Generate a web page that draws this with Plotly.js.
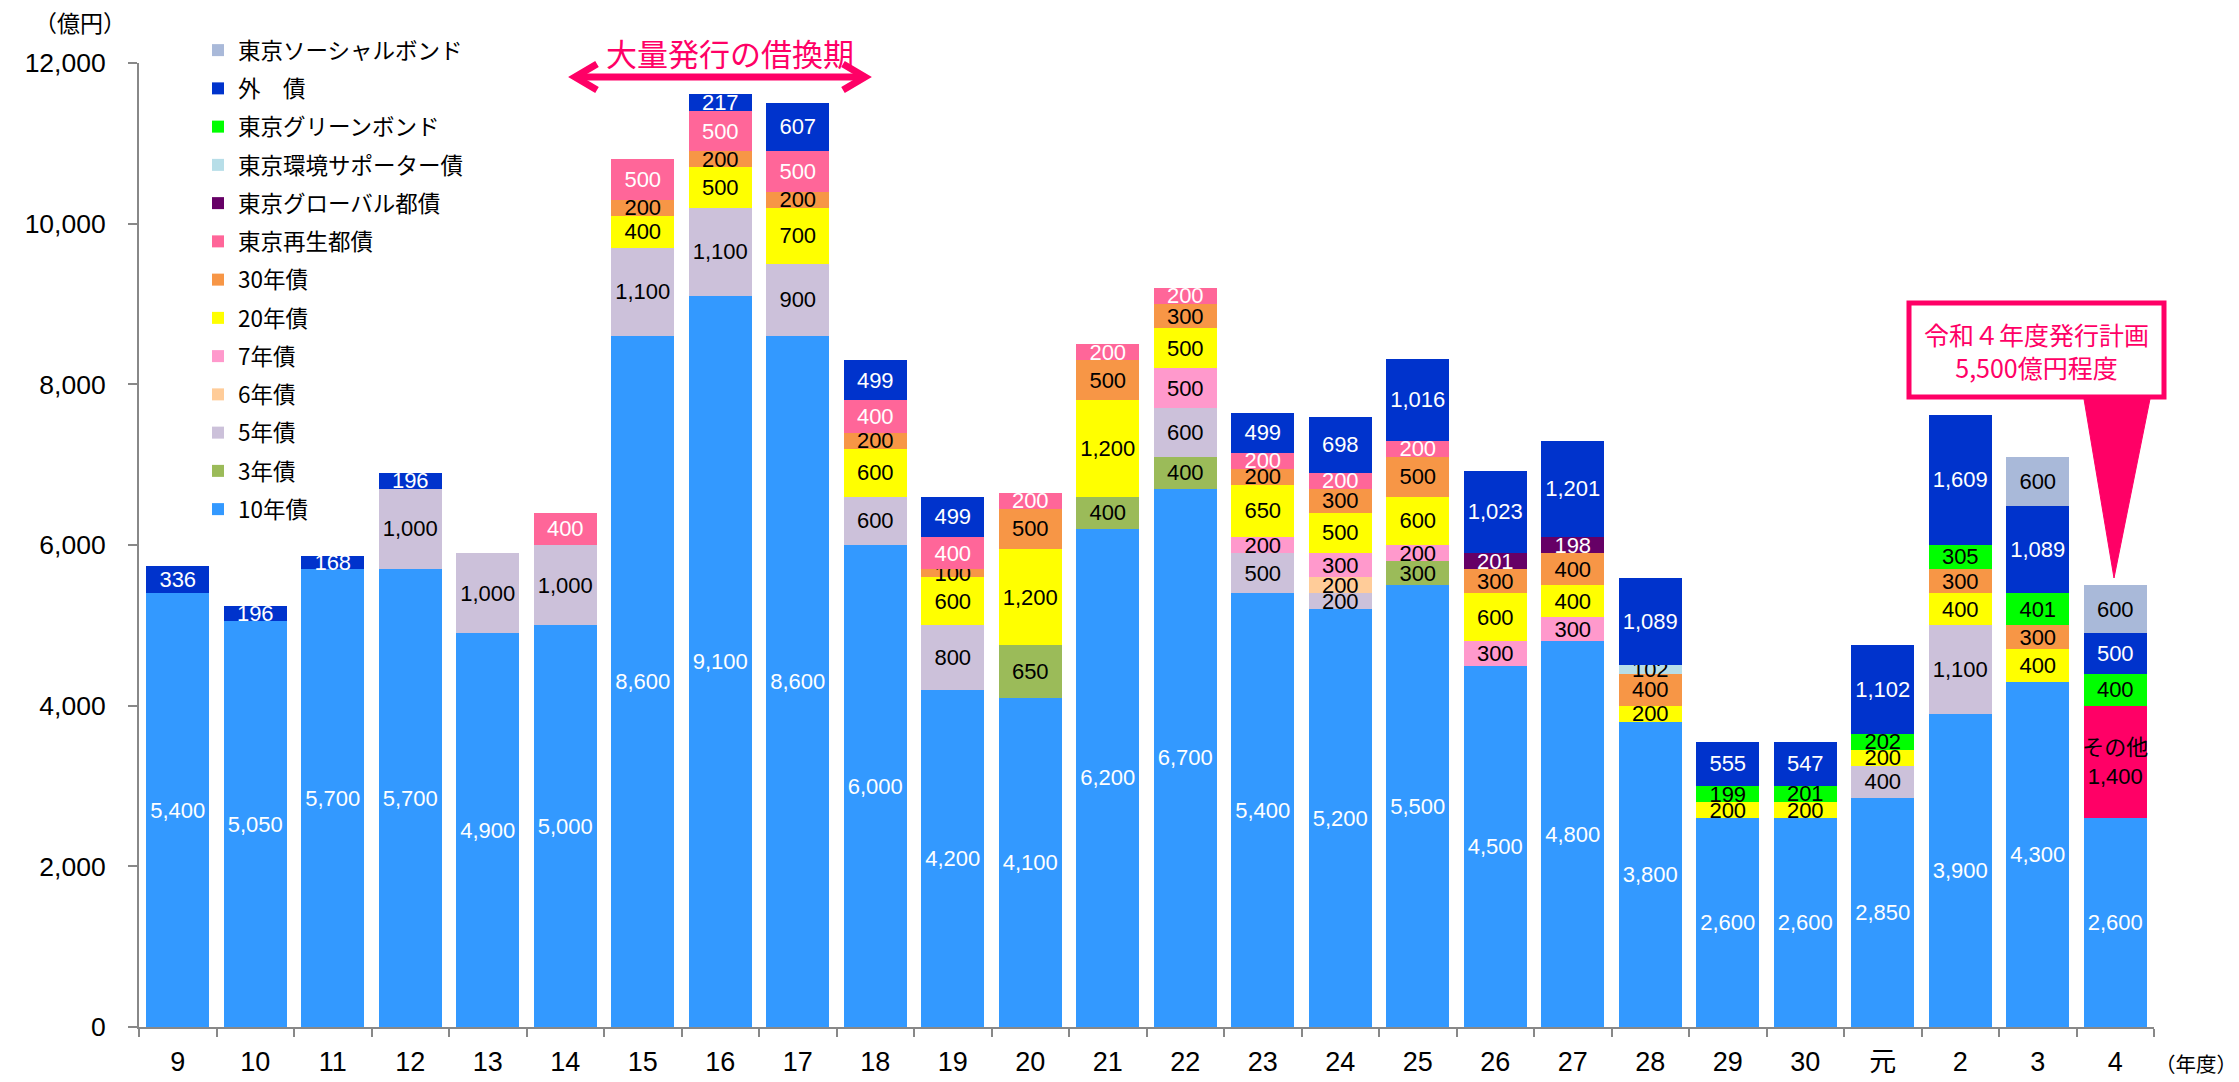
<!DOCTYPE html>
<html><head><meta charset="utf-8">
<script src="https://cdn.plot.ly/plotly-3.0.1.min.js"></script>
<style>html,body{margin:0;padding:0;background:#fff}</style>
</head><body><div id="chart" style="width:2239px;height:1082px"></div>
<script>
const categories = ['9','10','11','12','13','14','15','16','17','18','19','20','21','22','23','24','25','26','27','28','29','30','元','2','3','4'];
const N = null;
const bond10   = [5400,5050,5700,5700,4900,5000,8600,9100,8600,6000,4200,4100,6200,6700,5400,5200,5500,4500,4800,3800,2600,2600,2850,3900,4300,2600];
const bond3    = [N,N,N,N,N,N,N,N,N,N,N,650,400,400,N,N,300,N,N,N,N,N,N,N,N,N];
const bond5    = [N,N,N,1000,1000,1000,1100,1100,900,600,800,N,N,600,500,200,N,N,N,N,N,N,400,1100,N,N];
const bond6    = [N,N,N,N,N,N,N,N,N,N,N,N,N,N,N,200,N,N,N,N,N,N,N,N,N,N];
const bond7    = [N,N,N,N,N,N,N,N,N,N,N,N,N,500,200,300,200,300,300,N,N,N,N,N,N,N];
const bond20   = [N,N,N,N,N,N,400,500,700,600,600,1200,1200,500,650,500,600,600,400,200,200,200,200,400,400,N];
const bond30   = [N,N,N,N,N,N,200,200,200,200,100,500,500,300,200,300,500,300,400,400,N,N,N,300,300,N];
const saisei   = [N,N,N,N,N,400,500,500,500,400,400,200,200,200,200,200,200,N,N,N,N,N,N,N,N,N];
const global   = [N,N,N,N,N,N,N,N,N,N,N,N,N,N,N,N,N,201,198,N,N,N,N,N,N,N];
const kankyo   = [N,N,N,N,N,N,N,N,N,N,N,N,N,N,N,N,N,N,N,102,N,N,N,N,N,N];
const sonota   = [N,N,N,N,N,N,N,N,N,N,N,N,N,N,N,N,N,N,N,N,N,N,N,N,N,1400];
const green    = [N,N,N,N,N,N,N,N,N,N,N,N,N,N,N,N,N,N,N,N,199,201,202,305,401,400];
const gaisai   = [336,196,168,196,N,N,N,217,607,499,499,N,N,N,499,698,1016,1023,1201,1089,555,547,1102,1609,1089,500];
const social   = [N,N,N,N,N,N,N,N,N,N,N,N,N,N,N,N,N,N,N,N,N,N,N,N,600,600];

const NUMFONT = "'Liberation Sans', Arial, 'Noto Sans CJK JP', sans-serif";
const JPFONT = "'Liberation Sans', Arial, 'Noto Sans CJK JP', sans-serif";

let rank = 100;
function mk(name, vals, color, tcolor, show, tmpl) {
  rank -= 1;
  return {
    type: 'bar', name: name, x: categories, y: vals,
    marker: {color: color, line: {width: 0}},
    texttemplate: tmpl || '%{y:,}', textposition: 'inside', insidetextanchor: 'middle',
    constraintext: 'none', textangle: 0,
    textfont: {family: NUMFONT, size: 22, color: tcolor},
    showlegend: show, legendgroup: name, legendrank: rank, hoverinfo: 'skip'
  };
}
const sonotaText = sonota.map(v => v == null ? '' : 'その他<br>' + v.toLocaleString('en-US'));
const trOther = mk('その他', sonota, '#FF0066', '#000000', false, '%{text}');
trOther.text = sonotaText;

const data = [
  mk('10年債', bond10, '#3399FF', '#FFFFFF', true),
  mk('3年債', bond3, '#9BBB59', '#000000', true),
  mk('5年債', bond5, '#CCC1DA', '#000000', true),
  mk('6年債', bond6, '#FFCC99', '#000000', true),
  mk('7年債', bond7, '#FF99CC', '#000000', true),
  mk('20年債', bond20, '#FFFF00', '#000000', true),
  mk('30年債', bond30, '#F79646', '#000000', true),
  mk('東京再生都債', saisei, '#FF6699', '#FFFFFF', true),
  mk('東京グローバル都債', global, '#660066', '#FFFFFF', true),
  mk('東京環境サポーター債', kankyo, '#B7DEE8', '#000000', true),
  trOther,
  mk('東京グリーンボンド', green, '#00FF00', '#000000', true),
  mk('外　債', gaisai, '#0033CC', '#FFFFFF', true),
  mk('東京ソーシャルボンド', social, '#A9B9D9', '#000000', true)
];

const L = 139, R = 85, T = 63, B = 55, W = 2239, H = 1082;
const PW = W - L - R, PH = H - T - B;
const px = x => (x - L) / PW;
const py = y => (H - B - y) / PH;
const PINK = '#FF0066';

const layout = {
  width: W, height: H,
  margin: {l: L, r: R, t: T, b: B, pad: 0},
  paper_bgcolor: '#FFFFFF', plot_bgcolor: '#FFFFFF',
  barmode: 'stack', bargap: 0.19,
  font: {family: JPFONT, color: '#000000'},
  showlegend: true,
  legend: {
    x: px(198), y: py(29), xanchor: 'left', yanchor: 'top',
    traceorder: 'grouped', tracegroupgap: 6,
    font: {family: "'Noto Sans CJK JP', sans-serif", size: 22.5, color: '#000'},
    bgcolor: 'rgba(0,0,0,0)', borderwidth: 0
  },
  xaxis: {
    type: 'category', showgrid: false, zeroline: false,
    showline: true, linecolor: '#888888', linewidth: 2,
    ticks: 'outside', tickson: 'boundaries', ticklen: 8, tickwidth: 2, tickcolor: '#888888',
    tickfont: {family: JPFONT, size: 27, color: '#000'},
    ticklabelstandoff: 10, fixedrange: true
  },
  yaxis: {
    range: [0, 12000], dtick: 2000, tick0: 0, tickformat: ',d',
    showgrid: false, zeroline: false,
    showline: true, linecolor: '#888888', linewidth: 2,
    ticks: 'outside', ticklen: 9, tickwidth: 2, tickcolor: '#888888',
    tickfont: {family: NUMFONT, size: 26.5, color: '#000'},
    ticklabelstandoff: 17, fixedrange: true
  },
  shapes: [
    {type: 'rect', xref: 'paper', yref: 'paper', x0: px(1909), x1: px(2164), y0: py(397), y1: py(303),
     fillcolor: '#FFFFFF', line: {color: PINK, width: 5}},
    {type: 'path', xref: 'paper', yref: 'paper',
     path: `M ${px(2084)} ${py(399)} L ${px(2150)} ${py(399)} L ${px(2114)} ${py(578)} Z`,
     fillcolor: PINK, line: {color: PINK, width: 1}},
    {type: 'line', xref: 'paper', yref: 'paper', x0: px(577), x1: px(862), y0: py(77), y1: py(77),
     line: {color: PINK, width: 7}},
    {type: 'path', xref: 'paper', yref: 'paper',
     path: `M ${px(597)} ${py(64)} L ${px(575)} ${py(77)} L ${px(597)} ${py(90)}`,
     line: {color: PINK, width: 7}},
    {type: 'path', xref: 'paper', yref: 'paper',
     path: `M ${px(843)} ${py(64)} L ${px(865)} ${py(77)} L ${px(843)} ${py(90)}`,
     line: {color: PINK, width: 7}}
  ],
  annotations: [
    {text: '（億円）', xref: 'paper', yref: 'paper', x: px(80), y: py(22), xanchor: 'center', yanchor: 'middle',
     showarrow: false, font: {family: "'Noto Sans CJK JP', sans-serif", size: 23, color: '#000'}},
    {text: '（年度）', xref: 'paper', yref: 'paper', x: px(2196), y: py(1063), xanchor: 'center', yanchor: 'middle',
     showarrow: false, font: {family: "'Noto Sans CJK JP', sans-serif", size: 20.5, color: '#000'}},
    {text: '大量発行の借換期', xref: 'paper', yref: 'paper', x: px(730), y: py(52), xanchor: 'center', yanchor: 'middle',
     showarrow: false, font: {family: "'Noto Sans CJK JP', sans-serif", size: 31, color: PINK}},
    {text: '令和４年度発行計画<br>5,500億円程度', xref: 'paper', yref: 'paper', x: px(2036), y: py(350),
     xanchor: 'center', yanchor: 'middle', showarrow: false, align: 'center',
     font: {family: "'Noto Sans CJK JP', sans-serif", size: 25, color: PINK}}
  ]
};

Plotly.newPlot('chart', data, layout, {displayModeBar: false, staticPlot: true});
</script>
</body></html>
